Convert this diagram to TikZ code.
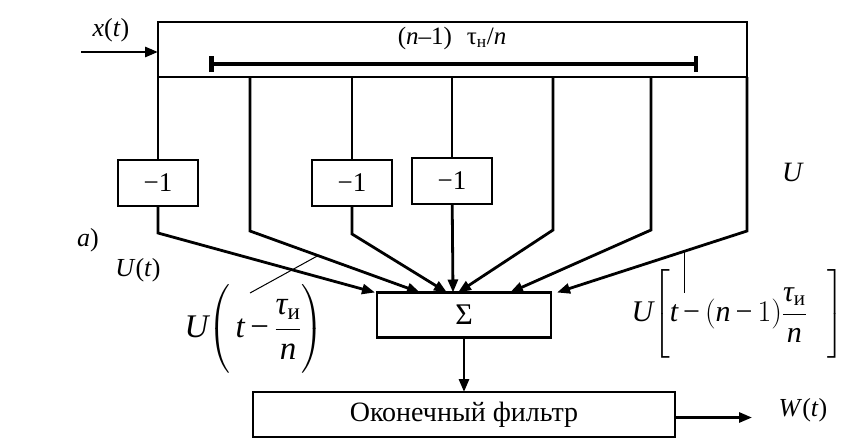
\documentclass[tikz,border=0pt]{standalone}
\usepackage{fix-cm}
\usepackage{amsmath}
\usepackage{fontspec}
\setmainfont{Liberation Serif}
\usetikzlibrary{arrows.meta,positioning,calc}
\newcommand{\tmin}{\text{−}}

\begin{document}
\begin{tikzpicture}[x=1pt,y=-1pt,
          blk/.style={draw,line width=2.8pt,inner sep=0pt,outer sep=0pt,
                      font=\fontsize{27}{29}\selectfont},
          inv/.style={blk,minimum width=80pt,minimum height=46pt},
          lin/.style={line width=2.8pt},
          arr/.style={lin,-{Triangle[length=13pt,width=10pt]}},
          lead/.style={line width=1pt},
          lbl/.style={inner sep=0pt,font=\fontsize{26}{28}\selectfont},
        ]
        \useasboundingbox (0,0) rectangle (856,439);
        % Линия задержки
        \node[blk,minimum width=589pt,minimum height=55pt] (delay) at (452.5,49.5) {};
        \node[lbl,font=\fontsize{25}{27}\selectfont] (dlab) at (452,38)
             {(\textit{n}–1)\hspace{0.6em}τ\textsubscript{н}/\textit{n}};
        \draw[line width=4.5pt,{Bar[width=16pt]}-{Bar[width=16pt]}] (209,64) -- (698,64);
        % Вход
        \coordinate (xin) at (81,52);
        \draw[arr] (xin) -- (xin -| delay.west);
        \node[lbl] (xlab) at (111,30) {\textit{x}(\textit{t})};
        % Отводы
        \coordinate (t1) at (delay.south west);
        \foreach \n/\x in {2/250,3/352,4/452,5/553,6/651}{
          \coordinate (t\n) at (\x,77);
        }
        \coordinate (t7) at (delay.south east);
        % Инверторы
        \node[inv] (n1) at (158,183) {−1};
        \node[inv] (n3) at (352,183) {−1};
        \node[inv] (n4) at (452,181) {−1};
        % Сумматор и фильтр
        \node[blk,minimum width=174pt,minimum height=45pt,
              font=\fontsize{30}{32}\selectfont] (sum) at (464,315) {Σ};
        \node[blk,minimum width=422pt,minimum height=45pt,
              font=\fontsize{28}{30}\selectfont] (filt) at (464,414.5) {Оконечный фильтр};
        % Изломы и входы сумматора
        \foreach \n/\x/\y in {1/158/233,2/250/231,3/352/234,5/553/230,6/651/230,7/747/231}{
          \coordinate (b\n) at (\x,\y);
        }
        \foreach \n/\s in {1/-89,2/-44,3/-17,4/-11,5/-6,6/46,7/93}{
          \coordinate (e\n) at ([xshift=\s pt]sum.north);
        }
        % Связи
        \foreach \n in {1,3,4}{
          \draw[lin] (t\n) -- (n\n);
        }
        \draw[arr] (n1) -- (b1) -- (e1);
        \draw[arr] (n3) -- (b3) -- (e3);
        \draw[arr] (n4) -- (e4);
        \foreach \n in {2,5,6,7}{
          \draw[arr] (t\n) -- (b\n) -- (e\n);
        }
        \draw[arr] (sum) -- (filt);
        % Выход
        \node[lbl] (wlab) at (803,410) {\textit{W}(\textit{t})};
        \coordinate (wend) at (752,417.5);
        \draw[arr] (filt.east |- wend) -- (wend);
        % Подписи
        \node[lbl] (alab) at (88,240) {\textit{а})};
        \node[lbl] (ulab) at (138,270) {\textit{U}(\textit{t})};
        \node[lbl,font=\fontsize{28}{30}\selectfont] (urlab) at (793,172) {\textit{U}};
        \node[lbl,font=\fontsize{33}{35}\selectfont] (f1) at (254,329)
             {$\textit{U}\!\left(\rule[-1.1em]{0pt}{2.7em}\,\textit{t}\,\tmin\,
               \dfrac{\textit{τ}_{\text{и}}}{\textit{n}}\right)$};
        \node[lbl,font=\fontsize{30}{32}\selectfont] (f2) at (738,314)
             {$\textit{U}\!\left[\rule[-1.2em]{0pt}{2.9em}\textit{t}\,\tmin\,(\textit{n}\,\tmin\,1)
               \dfrac{\textit{τ}_{\text{и}}}{\textit{n}}\hspace{0.7em}\right]$};
        % Выноски
        \coordinate (l1) at ($(b2)!0.4!(e2)$);
        \coordinate (l2) at (250,293);
        \draw[lead] (l1) -- (l2);
        \coordinate (l3) at ($(b7)!0.33!(e7)$);
        \coordinate (l4) at (l3 |- 0,293);
        \draw[lead] (l3) -- (l4);
      \end{tikzpicture}
\end{document}
